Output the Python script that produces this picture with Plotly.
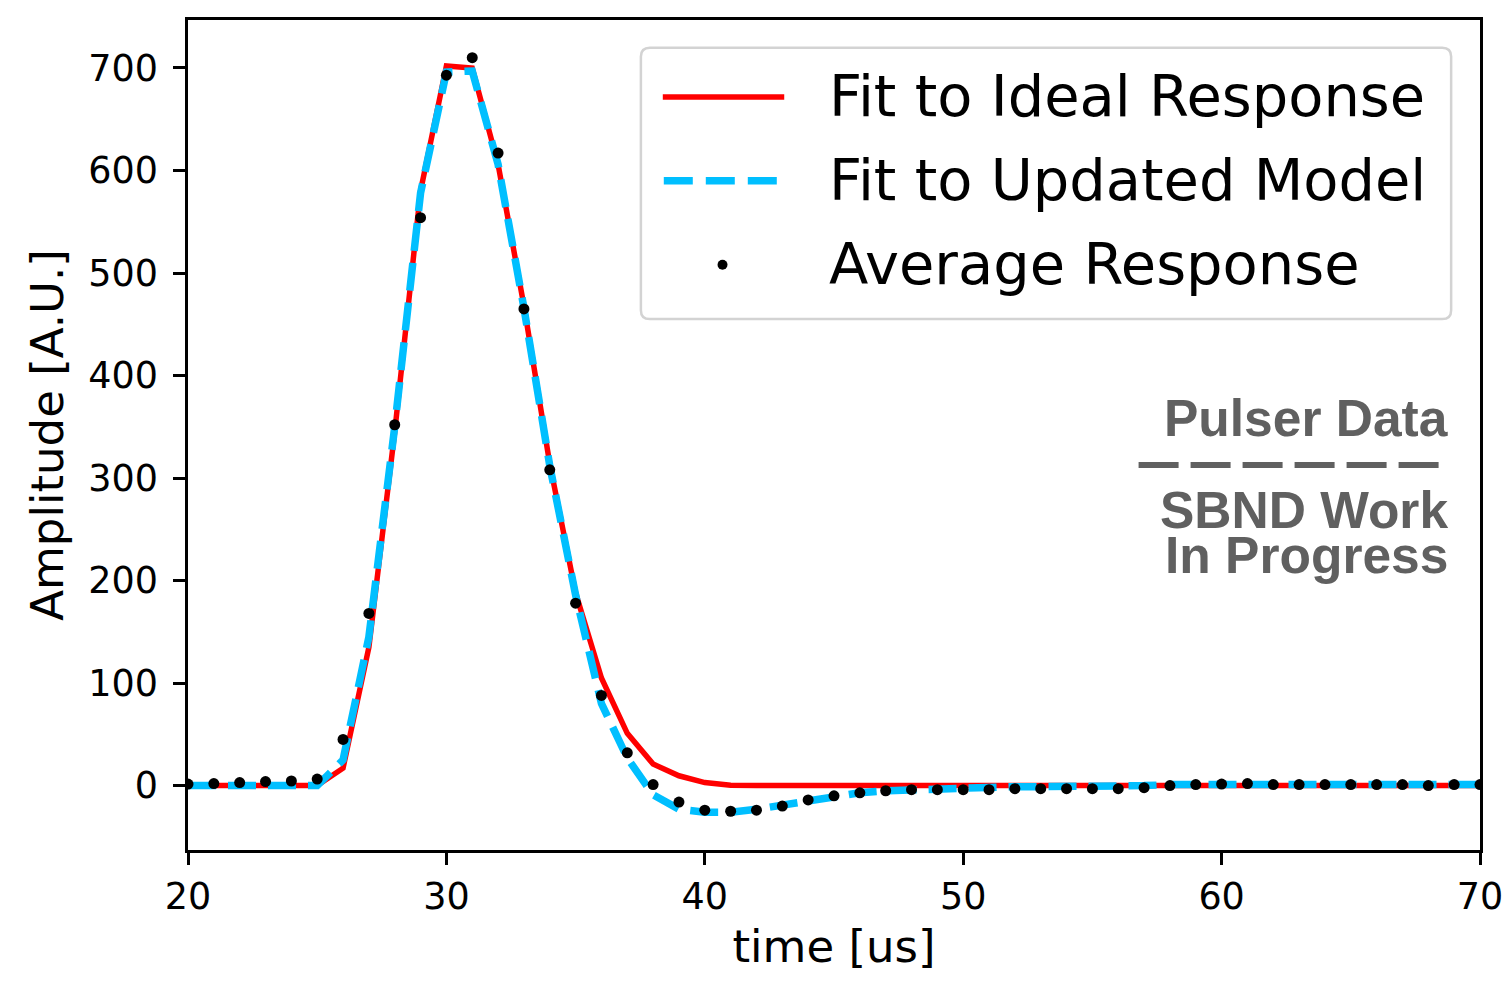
import plotly.graph_objects as go

# ---------------- data ----------------
time_us = list(range(20, 71))

average_response = [
    1.5, 2, 3, 4, 4.5, 6.4, 45, 168, 352, 554,
    693, 710, 617, 465, 308, 178, 88, 32, 1, -16,
    -24, -25, -24, -20, -14, -10, -7, -5, -4, -4,
    -4, -4, -3, -3, -3, -3, -3, -2, 0, 1,
    1.5, 2, 1, 1, 1, 1, 1, 1, 0, 1,
    1,
]

fit_ideal = [
    0, 0, 0, 0, 0, 0, 17, 135, 345, 580,
    702, 700, 606, 468, 314, 188, 105, 51, 21, 9.6,
    3, 0.4, 0, 0, 0, 0, 0, 0, 0, 0,
    0, 0, 0, 0, 0, 0, 0, 0, 0, 0,
    0, 0, 0, 0, 0, 0, 0, 0, 0, 0,
    0,
]

fit_updated = [
    0, 0, 0, 0, 0, 0, 25, 145, 350, 578,
    696, 697, 606, 466, 312, 186, 80, 27, -9, -23,
    -26, -26, -23, -19, -14, -10, -7, -5, -4, -3,
    -2, -2, -1, -1, -1, 0, 0, 0, 1, 1,
    1, 1, 1, 1, 1, 1, 1, 1, 1, 1,
    1,
]

x_ticks = [20, 30, 40, 50, 60, 70]
y_ticks = [0, 100, 200, 300, 400, 500, 600, 700]
legend_labels = ["Fit to Ideal Response", "Fit to Updated Model", "Average Response"]
watermark_lines = ["Pulser Data", "SBND Work", "In Progress"]

RED = "#ff0000"
CYAN = "#00bfff"
GREY = "#606060"
FONT = "DejaVu Sans"
WM_FONT = "Liberation Sans, Arial, sans-serif"

# ---------------- geometry ----------------
# The page keeps the browser's default 8px body margin, so the figure is
# sized to fit the 1512x981 window without overflow.
OFF = 8
W, H = 1512 - OFF, 981 - 2 * OFF
# target plot-area edges in window pixels
L, R, T, B = 188, 1486, 17, 858


def px(x):
    return (x - L) / (R - L)


def py(y):
    return (B - y) / (B - T)


fig = go.Figure()

fig.add_trace(go.Scatter(
    x=time_us, y=fit_ideal, mode="lines", name=legend_labels[0],
    line=dict(color=RED, width=5.5), showlegend=False,
))
fig.add_trace(go.Scatter(
    x=time_us, y=fit_updated, mode="lines", name=legend_labels[1],
    line=dict(color=CYAN, width=7.5, dash="28px,12px"), showlegend=False,
))
fig.add_trace(go.Scatter(
    x=time_us, y=average_response, mode="markers", name=legend_labels[2],
    marker=dict(color="black", size=11, line=dict(width=0)), showlegend=False,
))

shapes = []
annotations = []

# ---- legend box (rounded rect) ----
bx0, bx1, by0, by1 = 643, 1457, 45, 320
r = 9
rx = r / (R - L)
ry = r / (B - T)
X0, X1 = px(bx0), px(bx1)
Y0, Y1 = py(by1), py(by0)  # bottom, top in paper
path = (
    f"M {X0+rx},{Y0} L {X1-rx},{Y0} Q {X1},{Y0} {X1},{Y0+ry} "
    f"L {X1},{Y1-ry} Q {X1},{Y1} {X1-rx},{Y1} "
    f"L {X0+rx},{Y1} Q {X0},{Y1} {X0},{Y1-ry} "
    f"L {X0},{Y0+ry} Q {X0},{Y0} {X0+rx},{Y0} Z"
)
shapes.append(dict(type="path", path=path, xref="paper", yref="paper",
                   fillcolor="rgba(255,255,255,0.85)",
                   line=dict(color="#d3d3d3", width=2.5), layer="above"))

row_y = [95, 180, 265]
shapes.append(dict(type="line", xref="paper", yref="paper",
                   x0=px(665), x1=px(787), y0=py(row_y[0]), y1=py(row_y[0]),
                   line=dict(color=RED, width=5.5)))
shapes.append(dict(type="line", xref="paper", yref="paper",
                   x0=px(666), x1=px(780), y0=py(row_y[1]), y1=py(row_y[1]),
                   line=dict(color=CYAN, width=7.5, dash="29px,13px")))
shapes.append(dict(type="circle", xref="paper", yref="paper",
                   x0=px(720), x1=px(730), y0=py(row_y[2] + 5), y1=py(row_y[2] - 5),
                   fillcolor="black", line=dict(width=0)))
for lab, yy in zip(legend_labels, row_y):
    annotations.append(dict(text=lab, xref="paper", yref="paper",
                            x=px(830), y=py(yy), xanchor="left", yanchor="middle",
                            showarrow=False,
                            font=dict(family=FONT, size=57.5, color="black")))

# ---- watermark ----
wm_y = [420, 514, 559]
for txt, yy in zip(watermark_lines, wm_y):
    annotations.append(dict(text=f"<b>{txt}</b>", xref="paper", yref="paper",
                            x=px(1456), y=py(yy), xanchor="right", yanchor="middle",
                            showarrow=False,
                            font=dict(family=WM_FONT, size=51.5, color=GREY)))
shapes.append(dict(type="line", xref="paper", yref="paper",
                   x0=px(1143), x1=px(1450), y0=py(468), y1=py(468),
                   line=dict(color=GREY, width=6, dash="40px,12px")))

fig.update_layout(
    width=W, height=H, autosize=False,
    margin=dict(l=L - OFF, r=W - (R - OFF), t=T - OFF, b=H - (B - OFF), pad=0),
    paper_bgcolor="white", plot_bgcolor="white",
    shapes=shapes, annotations=annotations,
    showlegend=False,
    font=dict(family=FONT, color="black"),
)

fig.update_xaxes(
    range=[20, 70], tickvals=x_ticks, ticktext=[str(v) for v in x_ticks],
    showgrid=False, zeroline=False,
    showline=True, linecolor="black", linewidth=2.5, mirror=True,
    ticks="outside", ticklen=12, tickwidth=2.5, tickcolor="black",
    tickfont=dict(family=FONT, size=36.5, color="black"),
    ticklabelstandoff=0, ticklabeloverflow="allow",
    title=dict(text="time [us]", font=dict(family=FONT, size=45, color="black"),
               standoff=15),
)
fig.update_yaxes(
    range=[-62.8, 746.8], tickvals=y_ticks, ticktext=[str(v) for v in y_ticks],
    showgrid=False, zeroline=False,
    showline=True, linecolor="black", linewidth=2.5, mirror=True,
    ticks="outside", ticklen=12, tickwidth=2.5, tickcolor="black",
    tickfont=dict(family=FONT, size=36.5, color="black"),
    ticklabelstandoff=8,
    title=dict(text="Amplitude [A.U.]", font=dict(family=FONT, size=45, color="black"),
               standoff=11),
)

fig.write_html("out.html", config={"displayModeBar": False, "responsive": False})
